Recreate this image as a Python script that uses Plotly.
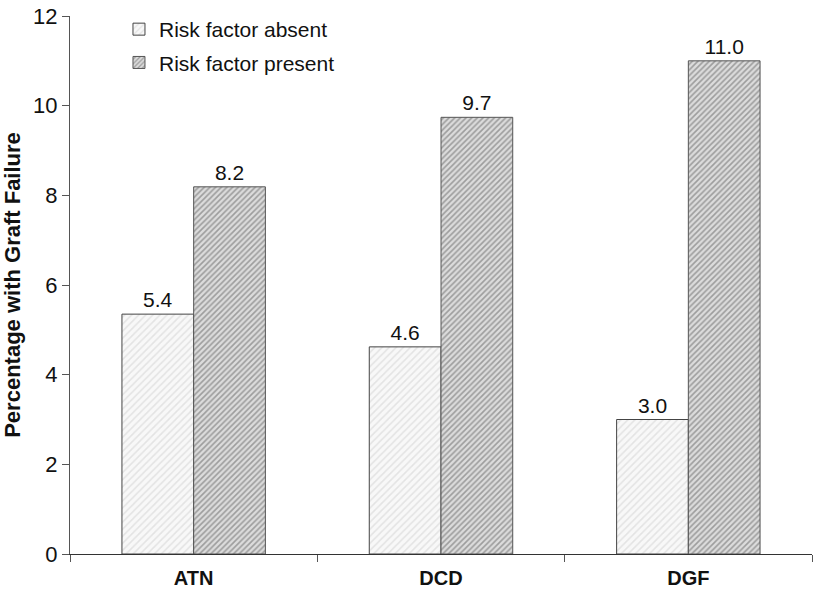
import plotly.graph_objects as go

categories = ["ATN", "DCD", "DGF"]
absent_values = [5.35, 4.62, 3.0]
present_values = [8.19, 9.74, 11.0]
absent_labels = ["5.4", "4.6", "3.0"]
present_labels = ["8.2", "9.7", "11.0"]
y_ticks = [0, 2, 4, 6, 8, 10, 12]

font_family = "Liberation Sans, Arial, sans-serif"

fig = go.Figure()
fig.add_trace(go.Bar(
    x=categories, y=absent_values, name="Risk factor absent", legendgroup="a",
    text=absent_labels, textposition="outside", cliponaxis=False,
    textfont=dict(size=21, color="#111", family=font_family),
    marker=dict(color="#f4f4f4", line=dict(color="#444", width=1),
                pattern=dict(shape="/", fgcolor="#cdcdcd", bgcolor="#f8f8f8", size=5, solidity=0.3)),
))
fig.add_trace(go.Bar(
    x=categories, y=present_values, name="Risk factor present", legendgroup="b",
    text=present_labels, textposition="outside", cliponaxis=False,
    textfont=dict(size=21, color="#111", family=font_family),
    marker=dict(color="#bbbbbb", line=dict(color="#555", width=1),
                pattern=dict(shape="/", fgcolor="#5e5e5e", bgcolor="#dcdcdc", size=4, solidity=0.4)),
))

fig.update_layout(
    width=816, height=596,
    margin=dict(l=70, r=4, t=14, b=42),
    plot_bgcolor="white", paper_bgcolor="white",
    barmode="group", bargap=0.42, bargroupgap=0,
    font=dict(family=font_family, size=21, color="#111"),
    showlegend=True,
    legend=dict(x=0.066, y=1.013, xanchor="left", yanchor="top",
                font=dict(size=21, family=font_family), bgcolor="rgba(0,0,0,0)",
                itemwidth=30, tracegroupgap=3, traceorder="grouped"),
    yaxis=dict(range=[0, 12], tickvals=y_ticks, showgrid=False, zeroline=False,
               showline=True, linecolor="#555", linewidth=1,
               ticks="outside", ticklen=7, tickcolor="#555",
               tickfont=dict(size=22, family=font_family),
               title=dict(text="<b>Percentage with Graft Failure</b>",
                          font=dict(size=22, family=font_family), standoff=14)),
    xaxis=dict(showgrid=False, showline=True, linecolor="#333", linewidth=1,
               ticks="outside", ticklen=7, tickcolor="#555", tickson="boundaries",
               ticklabelstandoff=6,
               tickfont=dict(size=20, family=font_family),
               tickvals=categories,
               ticktext=["<b>%s</b>" % c for c in categories]),
)

fig.write_html("out.html", config={"displayModeBar": False},
               post_script="document.body.style.margin='0px';")
